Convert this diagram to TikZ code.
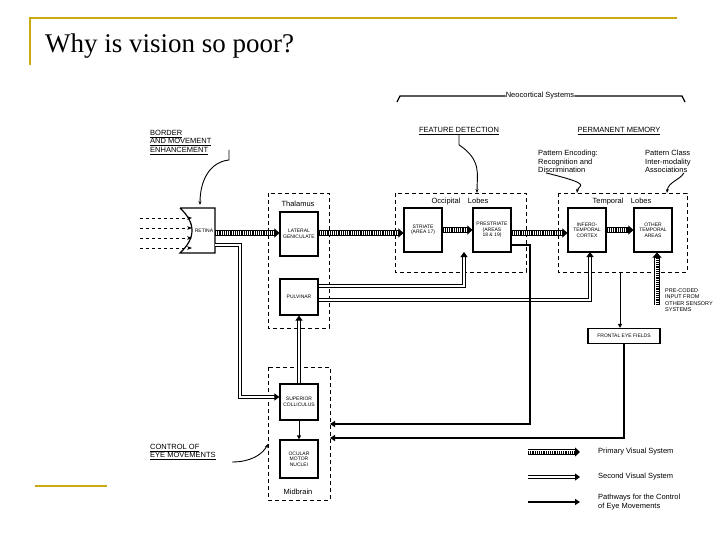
\documentclass[tikz,border=0pt]{standalone}
\usepackage{fontspec}
\setmainfont{Liberation Serif}
\newfontfamily\dsans{Liberation Sans}
\usetikzlibrary{arrows.meta,calc}
\definecolor{gold}{RGB}{204,170,20}
\begin{document}
\begin{tikzpicture}[x=1pt,y=-1pt,
  box/.style={draw,line width=1.2pt,minimum width=38pt,minimum height=44pt,inner sep=1pt,align=center,font=\dsans\fontsize{5}{5.5}\selectfont},
  region/.style={draw,dash pattern=on 4pt off 3pt,line width=0.9pt},
  lbl/.style={font=\dsans\fontsize{7.5}{8.5}\selectfont,align=left,inner sep=0pt},
  ulbl/.style={font=\dsans\fontsize{7.5}{8.5}\selectfont,align=left,inner sep=0pt},
  prim/.style={line width=5.5pt,-{Triangle[length=5pt,width=9pt]},postaction={draw=white,line width=3.5pt,arrows=-,shorten >=5pt,postaction={draw=black,line width=3pt,dash pattern=on 1.2pt off 1pt,arrows=-,shorten >=5pt}}},
  sec/.style={line width=1.1pt,double=white,double distance=2pt,-{Triangle[length=5pt,width=7pt]}},
  ctl/.style={line width=2.2pt,-{Triangle[length=5pt,width=6pt]}},
  thin/.style={line width=1pt,-{Triangle[length=4pt,width=4pt]}},
  curv/.style={line width=0.9pt,-{Stealth[length=4pt]}}]
\useasboundingbox (0,0) rectangle (720,540);
% frame
\draw[gold,line width=2pt] (30,65) -- (30,18) -- (677,18);
\draw[gold,line width=2pt] (35,486) -- (107,486);
\node[anchor=west,font=\fontsize{27}{30}\selectfont,inner sep=0pt] (title) at (45,46) {Why is vision so poor?};
% bracket
\node[lbl] (neo) at (540,96) {Neocortical Systems};
\draw[line width=1.2pt] (397,102) -- (400,96) -- (neo.west);
\draw[line width=1.2pt] (neo.east) -- (682,96) -- (685,102);
% regions
\draw[region] (268,193) rectangle (329,328);
\node[lbl] (thal) at (298,204) {Thalamus};
\draw[region] (268,367) rectangle (330,500);
\node[lbl] (mid) at (298,492) {Midbrain};
\draw[region] (395,193) rectangle (526,272);
\node[lbl] (occ) at (460,202) {Occipital\quad Lobes};
\draw[region] (558,193) rectangle (687,272);
\node[lbl] (tem) at (622,202) {Temporal\quad Lobes};
% boxes
\node[box] (lgn) at (299,234) {LATERAL\\GENICULATE};
\node[box,minimum height=36pt] (pul) at (299,297) {PULVINAR};
\node[box,minimum height=36pt] (sc) at (299,402) {SUPERIOR\\COLLICULUS};
\node[box,minimum height=38pt] (omn) at (299,459) {OCULAR\\MOTOR\\NUCLEI};
\node[box] (str) at (423,230) {STRIATE\\(AREA 17)};
\node[box] (pre) at (492,230) {PRESTRIATE\\(AREAS\\18 \& 19)};
\node[box] (it) at (587,230) {INFERO-\\TEMPORAL\\CORTEX};
\node[box] (ot) at (653,230) {OTHER\\TEMPORAL\\AREAS};
\node[box,minimum width=72pt,minimum height=15pt] (fef) at (624,336) {FRONTAL EYE FIELDS};
% retina
\draw[line width=1.2pt] (180,208) -- (215,208) -- (215,253) -- (180,253) .. controls (196,238) and (196,223) .. (180,208);
\node[font=\dsans\fontsize{5}{5.5}\selectfont,inner sep=0pt] (ret) at (204,231) {RETINA};
\coordinate (retE) at (215,233);
\foreach \y in {218,228,238,248}{\coordinate (in\y) at (140,\y);\coordinate (ie\y) at (192,\y);
  \draw[dashed,line width=0.9pt,-{Stealth[length=5pt]}] (in\y) -- (ie\y);}
% labels
\node[ulbl,anchor=north west] (bme) at (150,130) {\underline{BORDER}\\\underline{AND MOVEMENT}\\\underline{ENHANCEMENT}};
\node[ulbl] (fd) at (459,131) {\underline{FEATURE DETECTION}};
\node[ulbl] (pm) at (619,131) {\underline{PERMANENT MEMORY}};
\node[lbl,anchor=north west] (pe) at (538,150) {Pattern Encoding:\\Recognition and\\Discrimination};
\node[lbl,anchor=north west] (pc) at (645,150) {Pattern Class\\Inter-modality\\Associations};
\node[lbl,anchor=north west,font=\dsans\fontsize{5.5}{6.5}\selectfont] (pcs) at (665,288) {PRE-CODED\\INPUT FROM\\OTHER SENSORY\\SYSTEMS};
\node[ulbl,anchor=north west] (coe) at (150,444) {\underline{CONTROL OF}\\\underline{EYE MOVEMENTS}};
% curved pointers
\draw[curv] (229,150) -- (229,160) .. controls (210,162) and (200,180) .. (200,205);
\draw[curv] (fd.south) -- ++(0,10) .. controls (482,160) and (477,175) .. (477,193);
\draw[curv] (pe.south) ++(-22,0) .. controls (595,185) and (578,185) .. (577,193);
\draw[curv] (pc.south) ++(16,0) .. controls (680,180) and (668,182) .. (667,193);
\draw[curv] (232,462) .. controls (250,462) and (262,455) .. (268,444);
% primary
\draw[prim] (retE) -- (lgn.west|-retE);
\draw[prim] (lgn.east|-retE) -- (str.west|-retE);
\draw[prim] (str) -- (pre);
\draw[prim] (pre.east|-retE) -- (it.west|-retE);
\draw[prim] (it) -- (ot);
\coordinate (pcTop) at (657,305);
\draw[prim] (pcTop) -- (ot.south-|pcTop);
% second
\coordinate (r2) at (215,245);
\draw[sec] (r2) -- (240,245) -- (240,397) -- (sc.west|-0,397);
\draw[sec] (sc.north) -- (pul.south);
\draw[sec] (pul.east|-0,286) -- (464,286) -- (464,252);
\draw[sec] (pul.east|-0,300) -- (590,300) -- (590,252);
% control
\draw[ctl] (pre.east|-0,245) -- (530,245) -- (530,424) -- (330,424);
\coordinate (tb) at (620,272);
\draw[thin] (tb) -- (fef.north-|tb);
\draw[ctl] (fef.south) -- (624,438) -- (330,438);
\draw[thin] (sc.south) -- (omn.north);
% legend
\coordinate (l1a) at (528,452);\coordinate (l1b) at (580,452);
\coordinate (l2a) at (528,477);\coordinate (l2b) at (580,477);
\coordinate (l3a) at (528,502);\coordinate (l3b) at (580,502);
\draw[prim] (l1a) -- (l1b);
\draw[sec] (l2a) -- (l2b);
\draw[ctl] (l3a) -- (l3b);
\node[lbl,anchor=west] (t1) at (598,452) {Primary Visual System};
\node[lbl,anchor=west] (t2) at (598,477) {Second Visual System};
\node[lbl,anchor=west] (t3) at (598,502) {Pathways for the Control\\of Eye Movements};
\end{tikzpicture}
\end{document}
